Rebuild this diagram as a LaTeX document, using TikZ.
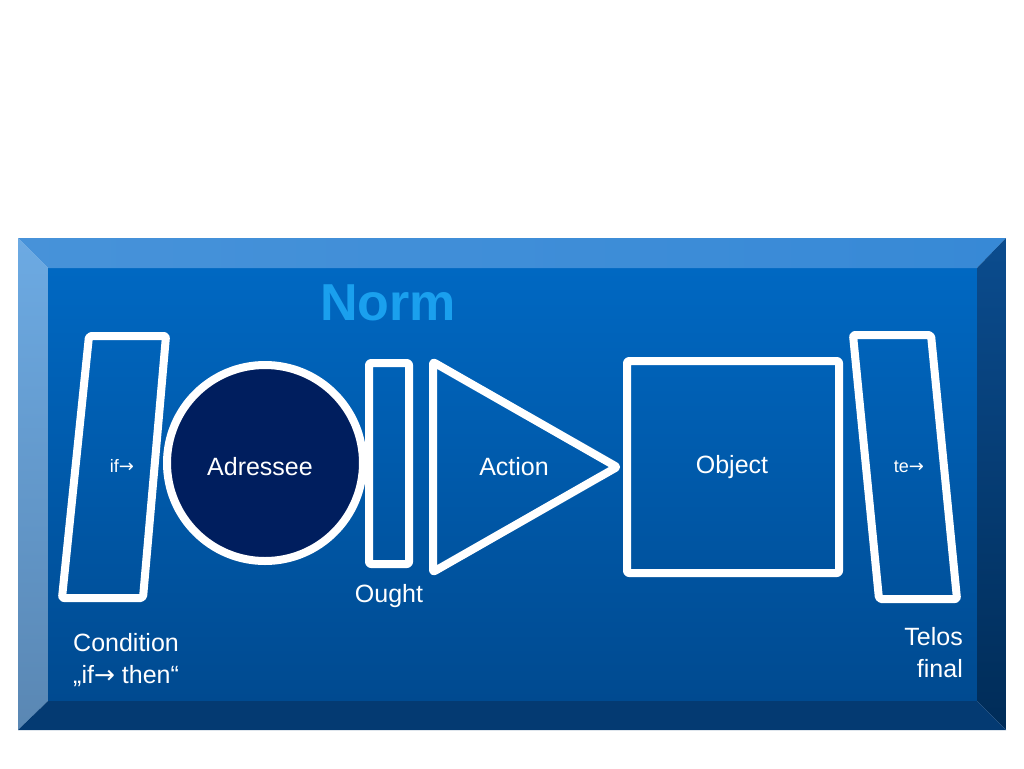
\documentclass[tikz,border=0pt]{standalone}
\usepackage{fontspec}
\setmainfont{Liberation Sans}
\newfontfamily\arrowfont{DejaVu Sans}
\definecolor{faceTop}{HTML}{0068C2}
\definecolor{faceBot}{HTML}{004A90}
\definecolor{bevTop}{HTML}{3789D6}
\definecolor{bevLeftTop}{HTML}{6CAAE3}
\definecolor{bevLeftBot}{HTML}{5A87B3}
\definecolor{bevRightTop}{HTML}{0B4C8E}
\definecolor{bevRightBot}{HTML}{002C58}
\definecolor{bevBot}{HTML}{043A72}
\definecolor{navy}{HTML}{001E5E}
\definecolor{normblue}{HTML}{1AA0EE}
\tikzset{
  shapeline/.style={draw=white, line width=8pt, line join=round, rounded corners=2pt},
  lbl/.style={text=white, font=\fontsize{25}{30}\selectfont, inner sep=0pt},
  smalllbl/.style={text=white, font=\fontsize{18}{22}\selectfont, inner sep=0pt},
}
\begin{document}
\begin{tikzpicture}[x=1pt,y=-1pt]
\useasboundingbox (0,0) rectangle (1024,768);
\fill[white] (0,0) rectangle (1024,768);
% panel face
\shade[top color=faceTop, bottom color=faceBot] (48,268) rectangle (977,701);
% bevels
\shade[left color=bevTop!92!white, right color=bevTop] (18,238) -- (1006,238) -- (977,268) -- (48,268) -- cycle;
\shade[top color=bevLeftTop, bottom color=bevLeftBot] (18,238) -- (48,268) -- (48,701) -- (18,730) -- cycle;
\shade[top color=bevRightTop, bottom color=bevRightBot] (1006,238) -- (1006,730) -- (977,701) -- (977,268) -- cycle;
\fill[bevBot] (18,730) -- (48,701) -- (977,701) -- (1006,730) -- cycle;

% title
\node[text=normblue, font=\bfseries\fontsize{52}{60}\selectfont, inner sep=0pt] (norm) at (388,303) {Norm};

% condition parallelogram
\draw[shapeline] (89,336) -- (166,336) -- (143,598) -- (62,598) -- cycle;
\node[smalllbl] (ifl) at (122,466) {if{\arrowfont→}};

% adressee circle
\draw[white, line width=8pt, fill=navy] (265,463) circle (98);
\node[lbl] (adr) at (260,467) {Adressee};

% ought bar
\draw[shapeline] (369,363) rectangle (409,564);
\node[lbl] (ought) at (389,596) {Ought};

% action triangle
\draw[shapeline] (433,362) -- (617,467) -- (433,572) -- cycle;
\node[lbl] (action) at (514,467) {Action};

% object square
\draw[shapeline] (627,361) rectangle (839,573);
\node[lbl] (object) at (732,467) {Object};

% telos parallelogram
\draw[shapeline] (853,335) -- (931,335) -- (957,599) -- (879,599) -- cycle;
\node[smalllbl] (tel) at (909,467) {te{\arrowfont→}};

% bottom labels
\node[lbl, anchor=west, align=left] (cond) at (73,660) {Condition\\[2pt]„if{\arrowfont→} then“};
\node[lbl, anchor=east, align=right] (telos) at (963,653) {Telos\\[2pt]final};
\end{tikzpicture}
\end{document}
